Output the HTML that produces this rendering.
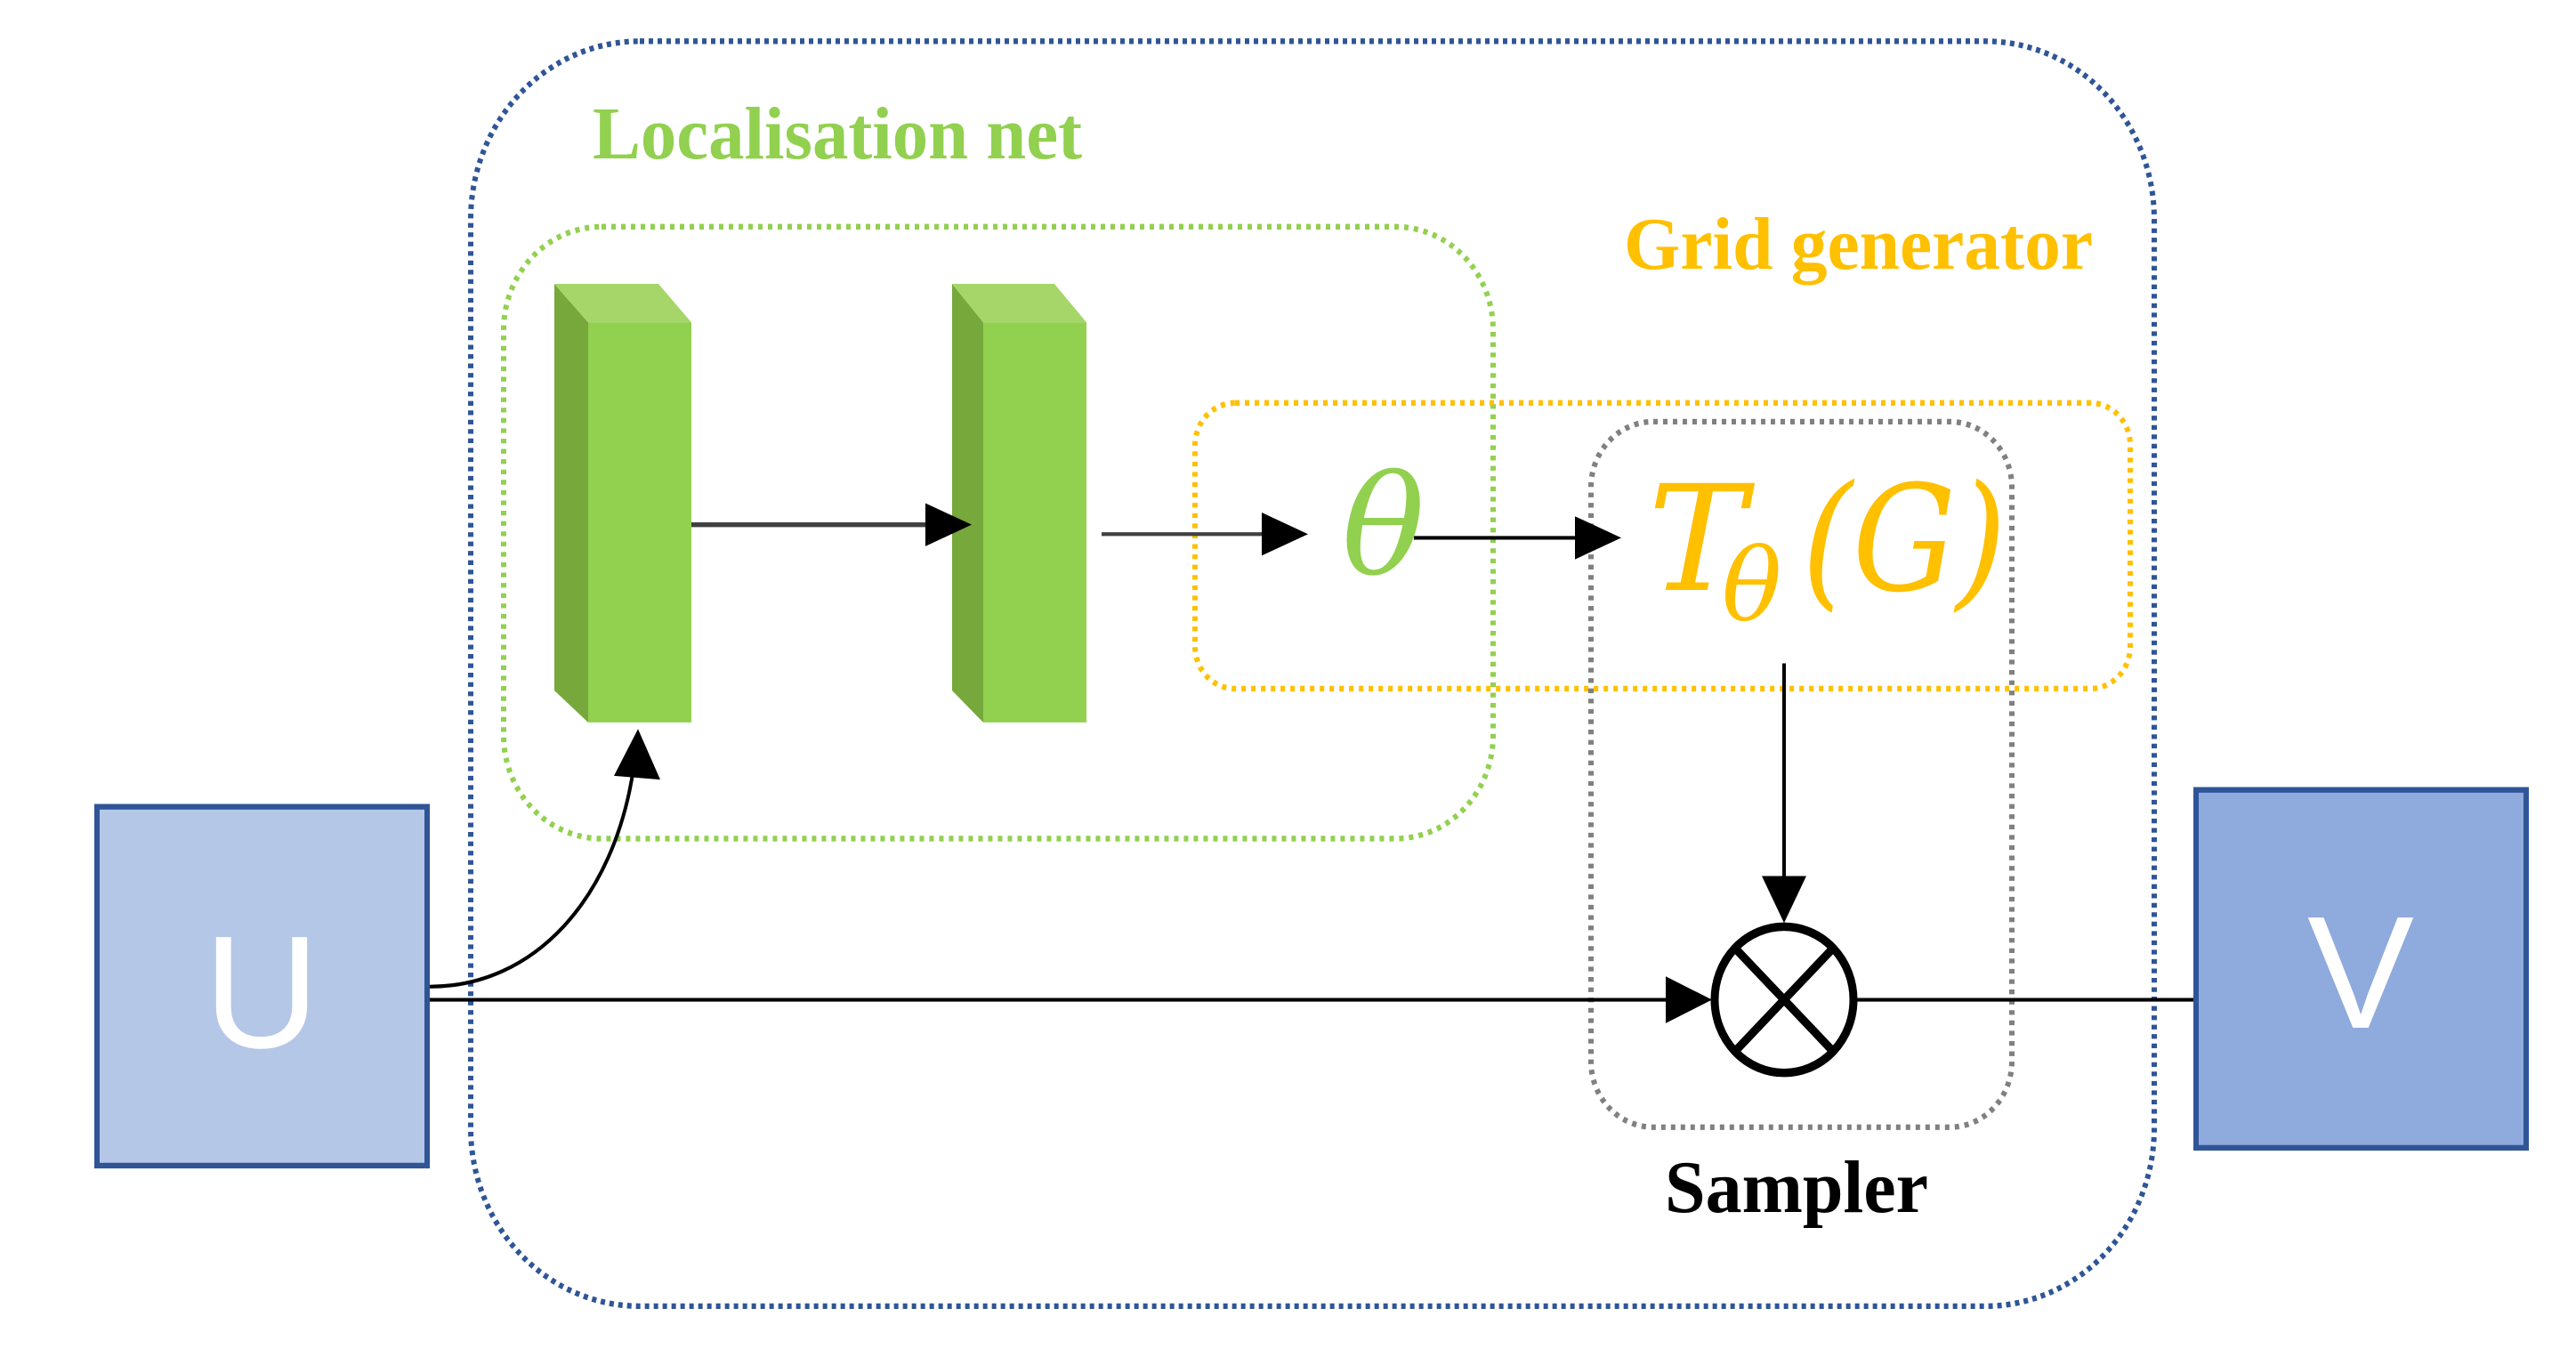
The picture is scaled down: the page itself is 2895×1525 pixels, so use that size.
<!DOCTYPE html>
<html><head><meta charset="utf-8"><style>html,body{margin:0;padding:0;background:#fff}svg{display:block}</style></head>
<body>
<svg width="2895" height="1525" viewBox="0 0 2895 1525" xmlns="http://www.w3.org/2000/svg">
<g transform="scale(1 1.053)">
<rect x="529" y="44" width="1892" height="1350" rx="190" fill="none" stroke="#2f5597" stroke-width="6" stroke-dasharray="5 5"/>
<rect x="566" y="242" width="1112" height="653" rx="110" fill="none" stroke="#92d050" stroke-width="6" stroke-dasharray="5 6"/>
<rect x="1343" y="430" width="1051" height="305" rx="45" fill="none" stroke="#ffc000" stroke-width="6" stroke-dasharray="5 6"/>
<rect x="1788" y="450" width="473" height="753" rx="70" fill="none" stroke="#808080" stroke-width="6" stroke-dasharray="5 6"/>
<polygon points="623,303 661,344 661,771 623,737" fill="#76a83c"/>
<polygon points="623,303 740,303 777,344 661,344" fill="#a6d66a"/>
<rect x="661" y="344" width="116" height="427" fill="#92d050"/>
<polygon points="1070,303 1105,344 1105,771 1070,737" fill="#76a83c"/>
<polygon points="1070,303 1185,303 1221,344 1105,344" fill="#a6d66a"/>
<rect x="1105" y="344" width="116" height="427" fill="#92d050"/>
<line x1="777" y1="560" x2="1050" y2="560" stroke="#404040" stroke-width="5"/>
<polygon points="1040,537 1092,560 1040,583" fill="#000"/>
<line x1="1238" y1="570" x2="1430" y2="570" stroke="#404040" stroke-width="4"/>
<polygon points="1418,547 1470,570 1418,593" fill="#000"/>
<line x1="1589" y1="574" x2="1790" y2="574" stroke="#000" stroke-width="4"/>
<polygon points="1770,551 1822,574 1770,597" fill="#000"/>
<line x1="2005" y1="708" x2="2005" y2="940" stroke="#000" stroke-width="4"/>
<polygon points="1980,935 2030,935 2005,985" fill="#000"/>
<circle cx="2005" cy="1067" r="78" fill="none" stroke="#000" stroke-width="9"/>
<line x1="1950" y1="1012" x2="2060" y2="1122" stroke="#000" stroke-width="9"/>
<line x1="2060" y1="1012" x2="1950" y2="1122" stroke="#000" stroke-width="9"/>
<line x1="483" y1="1067" x2="1880" y2="1067" stroke="#000" stroke-width="4"/>
<polygon points="1872,1042 1924,1067 1872,1092" fill="#000"/>
<line x1="2083" y1="1067" x2="2465" y2="1067" stroke="#000" stroke-width="4"/>
<path d="M483,1053 C600,1053 690,960 712,820" fill="none" stroke="#000" stroke-width="4"/>
<polygon points="690,828 717,778 742,832" fill="#000"/>
<rect x="109" y="861" width="371" height="383" fill="#b4c7e7" stroke="#2f5597" stroke-width="6"/>
<rect x="2468" y="843" width="371" height="382" fill="#8faadc" stroke="#2f5597" stroke-width="6"/>
</g>
<text x="294" y="1177" font-family="Liberation Sans, sans-serif" font-size="180" fill="#fff" text-anchor="middle">U</text>
<text x="2653" y="1155" font-family="Liberation Sans, sans-serif" font-size="180" fill="#fff" text-anchor="middle">V</text>
<text x="666" y="178" font-family="Liberation Serif, serif" font-weight="bold" font-size="84" fill="#92d050" textLength="550" lengthAdjust="spacingAndGlyphs">Localisation net</text>
<text x="1825" y="302" font-family="Liberation Serif, serif" font-weight="bold" font-size="84" fill="#ffc000" textLength="527" lengthAdjust="spacingAndGlyphs">Grid generator</text>
<text x="1871" y="1362" font-family="Liberation Serif, serif" font-weight="bold" font-size="84" fill="#000" textLength="296" lengthAdjust="spacingAndGlyphs">Sampler</text>
<text x="1508" y="645" font-family="DejaVu Serif, serif" font-style="italic" font-size="155" fill="#92d050">θ</text>
<text x="1852" y="663" font-family="DejaVu Serif, serif" font-style="italic" font-size="165" fill="#ffc000">T</text>
<text x="1935" y="697" font-family="DejaVu Serif, serif" font-style="italic" font-size="112" fill="#ffc000">θ</text>
<text x="2025" y="663" font-family="DejaVu Serif, serif" font-style="italic" font-size="165" fill="#ffc000" textLength="230" lengthAdjust="spacingAndGlyphs">(G)</text>
</svg>
</body></html>
